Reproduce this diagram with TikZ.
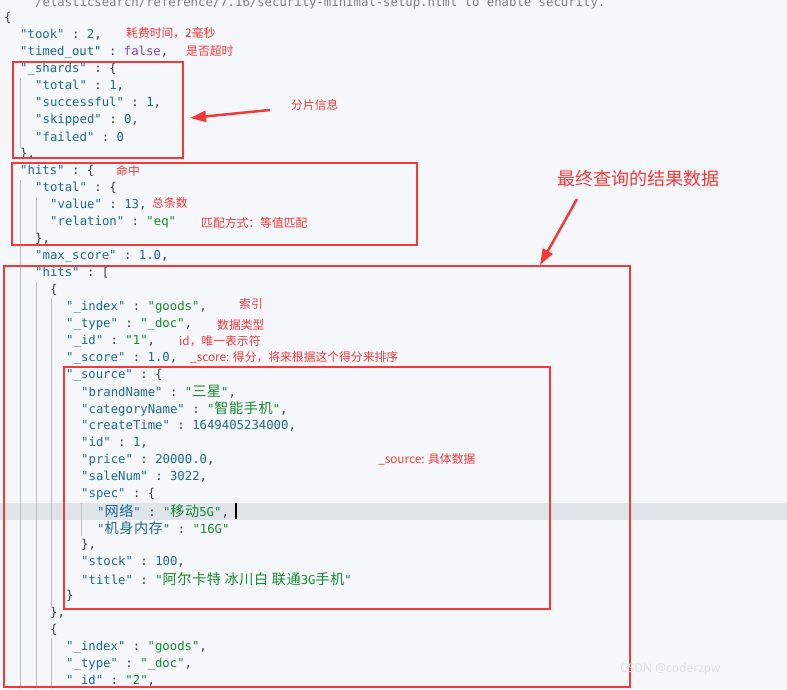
\documentclass[tikz,border=0pt]{standalone}
\usepackage{fontspec}
\setmonofont{DejaVu Sans Mono}
\newfontfamily\cjk{Noto Sans CJK SC}
\newfontfamily\cjkc[Scale=1.15,LetterSpace=4]{Noto Sans CJK SC}
\usetikzlibrary{arrows.meta}
\definecolor{bgc}{HTML}{F6F7FB}
\definecolor{hlc}{HTML}{DFE3EA}
\definecolor{keyc}{HTML}{1F6A94}
\definecolor{strc}{HTML}{168A2E}
\definecolor{numc}{HTML}{1F6A94}
\definecolor{boolc}{HTML}{7A48C8}
\definecolor{punc}{HTML}{3A3F4A}
\definecolor{annc}{HTML}{F23A3A}
\definecolor{guidec}{HTML}{B8BCC6}
\newcommand{\jk}[1]{\textcolor{keyc}{"#1"}}
\newcommand{\js}[1]{\textcolor{strc}{"#1"}}
\newcommand{\jn}[1]{\textcolor{numc}{#1}}
\tikzset{
 code/.style={anchor=west,inner sep=0pt,font=\ttfamily\fontsize{12.3}{14}\selectfont,text=punc},
 ann/.style={anchor=west,inner sep=0pt,font=\cjk\fontsize{11.8}{13}\selectfont,text=annc},
 redbox/.style={draw=annc,line width=2.6pt},
 guide/.style={draw=guidec,line width=0.8pt},
 bigarrow/.style={draw=annc,line width=2.5pt,-{Triangle[length=16pt,width=11pt]}}
}
\begin{document}
\begin{tikzpicture}[x=1pt,y=-1pt]
\fill[bgc] (0,0) rectangle (787,689);
\useasboundingbox (0,0) rectangle (787,689);
\fill[hlc] (0,503) rectangle (787,520);
% guides
\draw[guide] (20,78) -- (20,148);
\draw[guide] (20,180) -- (20,689);
\draw[guide] (36,197) -- (36,232);
\draw[guide] (36,282) -- (36,689);
\draw[guide] (51,298) -- (51,606);
\draw[guide] (51,638) -- (51,689);
\draw[guide] (81,503) -- (81,536);
% code
\node[code,text=gray] (l0) at (35,3) {/elasticsearch/reference/7.16/security-minimal-setup.html to enable security.};
\node[code] (l1) at (4,18) {\{};
\node[code] (l2) at (20,35) {\jk{took} : \jn{2},};
\node[code] (l3) at (20,52) {\jk{timed\_out} : \textcolor{boolc}{false},};
\node[code] (l4) at (20,69) {\jk{\_shards} : \{};
\node[code] (l5) at (35,86) {\jk{total} : \jn{1},};
\node[code] (l6) at (35,103) {\jk{successful} : \jn{1},};
\node[code] (l7) at (35,120) {\jk{skipped} : \jn{0},};
\node[code] (l8) at (35,137) {\jk{failed} : \jn{0}};
\node[code] (l9) at (20,154) {\},};
\node[code] (l10) at (20,171) {\jk{hits} : \{};
\node[code] (l11) at (35,188) {\jk{total} : \{};
\node[code] (l12) at (50,205) {\jk{value} : \jn{13},};
\node[code] (l13) at (50,222) {\jk{relation} : \js{eq}};
\node[code] (l14) at (35,239) {\},};
\node[code] (l15) at (35,256) {\jk{max\_score} : \jn{1.0},};
\node[code] (l16) at (35,273) {\jk{hits} : [};
\node[code] (l17) at (50,290) {\{};
\node[code] (l18) at (66,307) {\jk{\_index} : \js{goods},};
\node[code] (l19) at (66,324) {\jk{\_type} : \js{\_doc},};
\node[code] (l20) at (66,341) {\jk{\_id} : \js{1},};
\node[code] (l21) at (66,358) {\jk{\_score} : \jn{1.0},};
\node[code] (l22) at (66,375) {\jk{\_source} : \{};
\node[code] (l23) at (81,392) {\jk{brandName} : \js{{\cjkc 三星}},};
\node[code] (l24) at (81,409) {\jk{categoryName} : \js{{\cjkc 智能手机}},};
\node[code] (l25) at (81,426) {\jk{createTime} : \jn{1649405234000},};
\node[code] (l26) at (81,443) {\jk{id} : \jn{1},};
\node[code] (l27) at (81,460) {\jk{price} : \jn{20000.0},};
\node[code] (l28) at (81,477) {\jk{saleNum} : \jn{3022},};
\node[code] (l29) at (81,494) {\jk{spec} : \{};
\node[code] (l30) at (97,511) {\jk{{\cjkc 网络}} : \js{{\cjkc 移动}5G},};
\draw[black,line width=1.2pt] (236,503) -- (236,519);
\node[code] (l31) at (97,528) {\jk{{\cjkc 机身内存}} : \js{16G}};
\node[code] (l32) at (81,545) {\},};
\node[code] (l33) at (81,562) {\jk{stock} : \jn{100},};
\node[code] (l34) at (81,579) {\jk{title} : \js{{\cjkc 阿尔卡特 冰川白 联通}3G{\cjkc 手机}}};
\node[code] (l35) at (66,596) {\}};
\node[code] (l36) at (50,613) {\},};
\node[code] (l37) at (50,630) {\{};
\node[code] (l38) at (66,647) {\jk{\_index} : \js{goods},};
\node[code] (l39) at (66,664) {\jk{\_type} : \js{\_doc},};
\node[code] (l40) at (66,681) {\jk{\_id} : \js{2},};
% boxes
\draw[redbox] (13,62) rectangle (183,158);
\draw[redbox] (12,163) rectangle (417,245);
\draw[redbox] (4,266) rectangle (630,687);
\draw[redbox] (64,367) rectangle (550,609);
% annotations
\node[ann] (a1) at (126,33) {耗费时间，2毫秒};
\node[ann] (a2) at (186,51) {是否超时};
\node[ann] (a3) at (291,105) {分片信息};
\node[ann] (a4) at (116,171) {命中};
\node[ann] (a5) at (152,203) {总条数};
\node[ann] (a6) at (201,223) {匹配方式：等值匹配};
\node[ann] (a7) at (239,304) {索引};
\node[ann] (a8) at (217,325) {数据类型};
\node[ann] (a9) at (179,341) {id，唯一表示符};
\node[ann] (a10) at (190,357) {\_score: 得分，将来根据这个得分来排序};
\node[ann] (a11) at (378,459) {\_source: 具体数据};
\node[ann,font=\cjk\fontsize{18}{20}\selectfont] (a12) at (557,179) {最终查询的结果数据};
\coordinate (t1) at (270,110);
\coordinate (h1) at (190,118);
\draw[bigarrow] (t1) -- (h1);
\coordinate (t2) at (577,199);
\coordinate (h2) at (540,265);
\draw[bigarrow] (t2) -- (h2);
\node[anchor=west,inner sep=0pt,font=\fontspec{Noto Sans}\fontsize{12}{14}\selectfont,text=white!75!gray] (wm) at (620,669) {CSDN @coderzpw};
\end{tikzpicture}
\end{document}
